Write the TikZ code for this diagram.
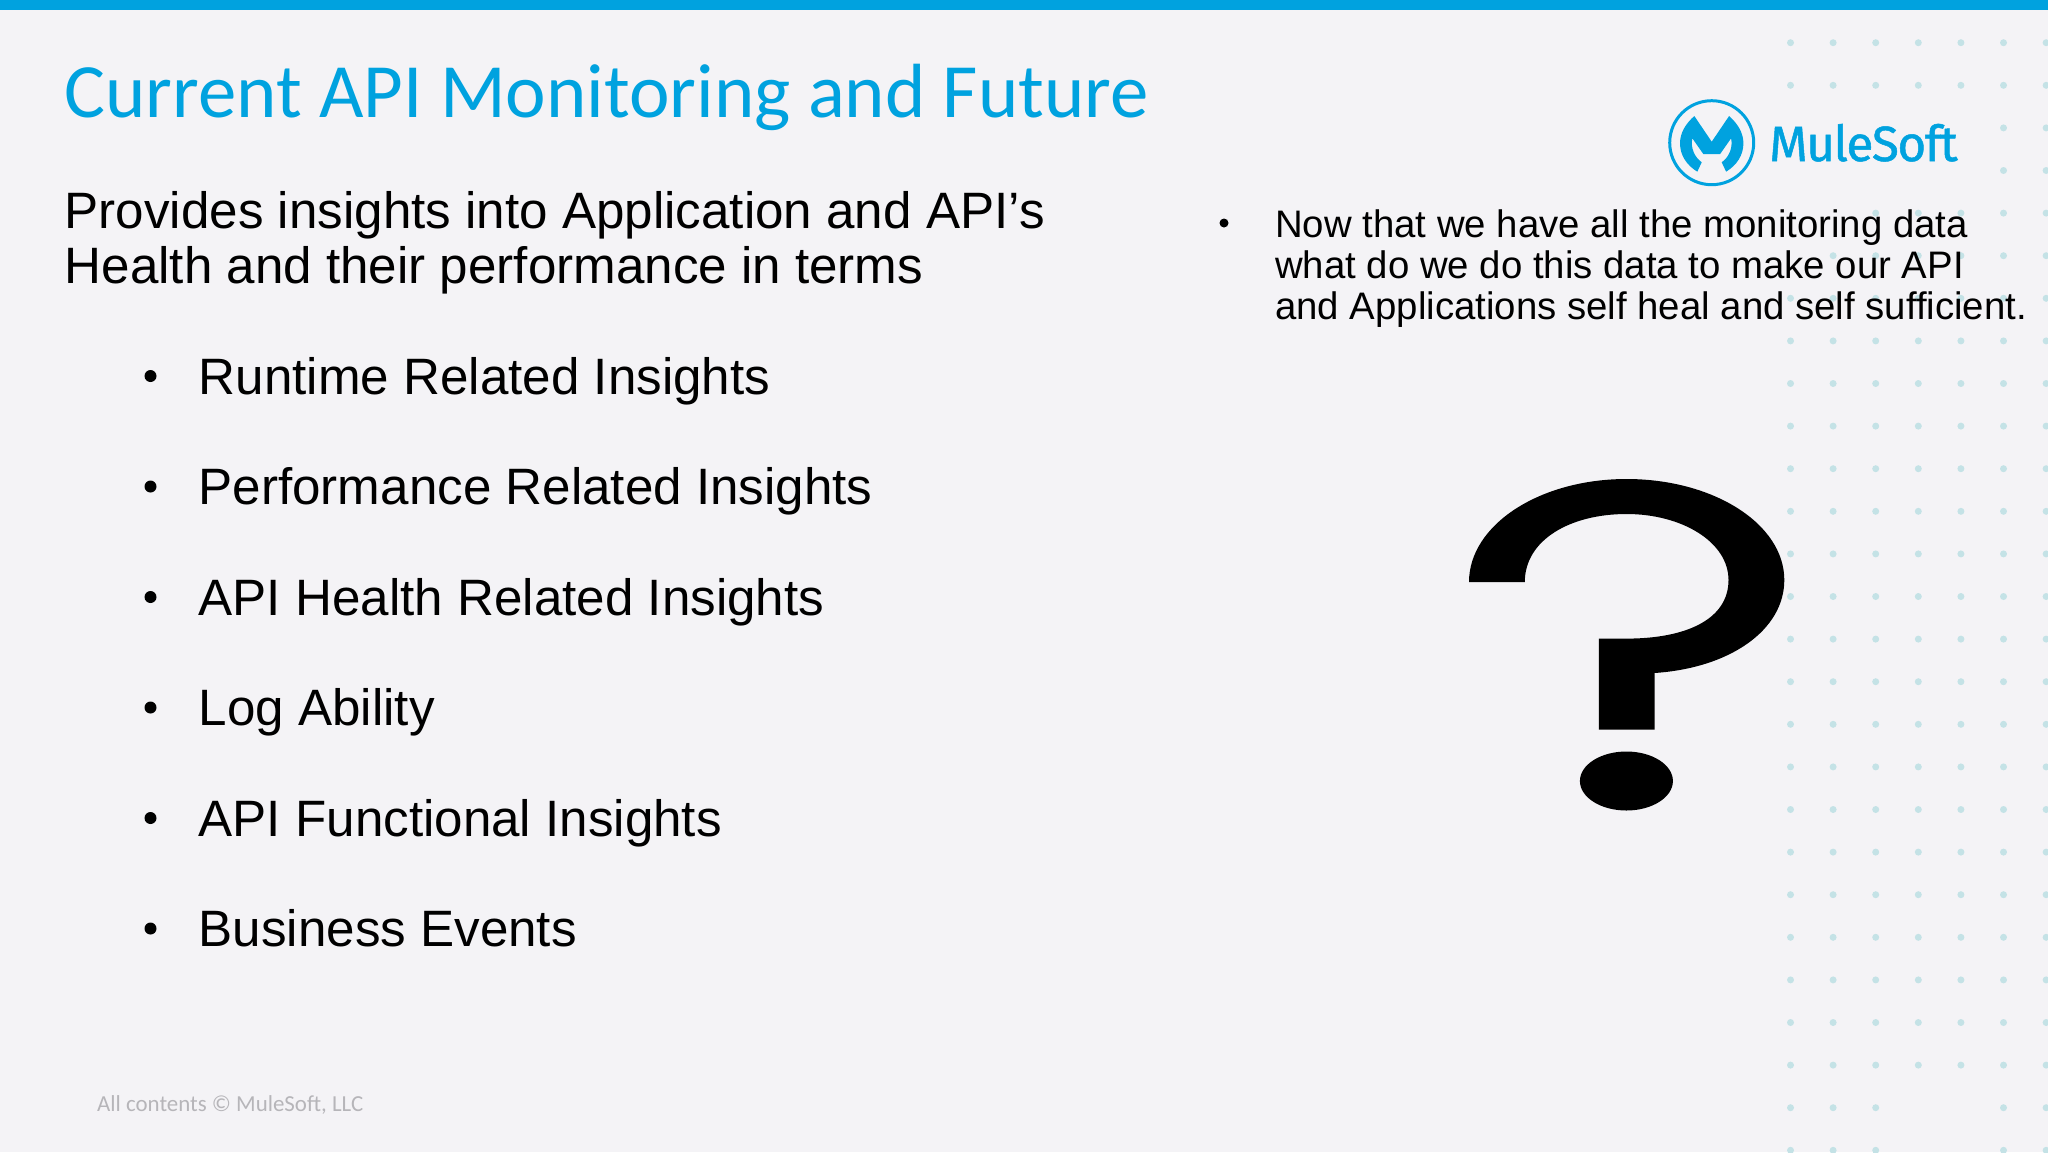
\documentclass[tikz,border=0pt]{standalone}
\usepackage{fontspec}
\setmainfont{Liberation Sans}
\newfontfamily\calibrifont{Carlito}
\newfontfamily\logofont[LetterSpace=-3,FakeBold=1]{Fira Sans}
\definecolor{mulebg}{HTML}{F4F3F6}
\definecolor{muleblue}{HTML}{00A2DF}
\definecolor{muledot}{HTML}{C4E2E6}
\definecolor{footgray}{HTML}{B6B5B9}
\tikzset{
	titletext/.style={anchor=base west, inner sep=0pt, text=muleblue, font=\calibrifont\fontsize{76.8}{76.8}\selectfont},
	leadtext/.style={anchor=base west, inner sep=0pt, font=\fontsize{51.15}{51.15}\selectfont},
	sidetext/.style={anchor=base west, inner sep=0pt, font=\fontsize{38.35}{38.35}\selectfont},
	bulletdot/.style={circle, fill=black, inner sep=0pt, minimum size=#1},
	griddot/.style={circle, fill=muledot, inner sep=0pt, minimum size=7pt}
}
\begin{document}
\begin{tikzpicture}[x=1pt,y=-1pt]
	\useasboundingbox (0,0) rectangle (2048,1152);
	\fill[mulebg] (0,0) rectangle (2048,1152);
	\fill[muleblue] (0,0) rectangle (2048,9.5);

	% dot grid
	\foreach \row in {0,...,26}
		\foreach \col in {0,...,6} {
			\pgfmathtruncatemacro{\skipdot}{(\row==2||\row==3)&&(\col<5) ? 1 : ((\row>=25)&&(\col==3||\col==4) ? 1 : ((\row==4)&&(\col<2) ? 1 : ((\row==5)&&(\col==0) ? 1 : 0)))}
			\ifnum\skipdot=0
				\node[griddot] (g\row-\col) at (1790.5+42.6*\col,42.7+42.6*\row) {};
			\fi
		}

	\node[titletext] (title) at (64.5,117) {Current API Monitoring and Future};
	\node[leadtext] (lead1) at (64.5,228) {Provides insights into Application and API’s};
	\node[leadtext] (lead2) at (64.5,283.5) {Health and their performance in terms};

	\foreach \name/\ypos/\txt in {runtime/394/Runtime Related Insights,
		perf/504.5/Performance Related Insights,
		health/615/API Health Related Insights,
		logs/725.5/Log Ability,
		func/836/API Functional Insights,
		events/946.5/Business Events} {
		\node[leadtext] (\name) at (198.5,\ypos) {\txt};
		\node[bulletdot=12pt] (\name-b) at (150.5,\ypos-18) {};
	}

	\node[sidetext] (side1) at (1275,237) {Now that we have all the monitoring data};
	\node[sidetext] (side2) at (1275,278) {what do we do this data to make our API};
	\node[sidetext] (side3) at (1275,319) {and Applications self heal and self sufficient.};
	\node[bulletdot=9pt] (side-b) at (1224,223) {};

	% logo
	\node[circle, draw=muleblue, line width=3pt, minimum size=84pt, inner sep=0pt] (ring) at (1711.7,142.7) {};
	\fill[muleblue] (1694.3,116) -- (1711.7,141.7) -- (1729.1,116)
		.. controls (1738,124) and (1743.4,133) .. (1743.4,143.3)
		.. controls (1743.4,155) and (1737,165) .. (1726.1,171.7) -- (1721.7,162.3)
		.. controls (1729,157) and (1733,148) .. (1731.1,138.3) -- (1720.1,154) -- (1703.3,154) -- (1692.3,138.3)
		.. controls (1690.4,148) and (1694.4,157) .. (1701.7,162.3) -- (1697.3,171.7)
		.. controls (1686.4,165) and (1680,155) .. (1680,143.3)
		.. controls (1680,133) and (1685.4,124) .. cycle;
	\node[anchor=base west, inner sep=0pt, text=muleblue, font=\logofont\fontsize{49.5}{49.5}\selectfont] (logotext) at (1769,161) {MuleSoft};

	% big question mark
	\fill (1469,582) .. controls (1469,525) and (1539.5,479) .. (1626.5,479)
		.. controls (1713.6,479) and (1784.3,524) .. (1784.3,580)
		.. controls (1784.3,630) and (1730,668) .. (1654.5,673)
		-- (1654.5,729.5) -- (1598.8,729.5) -- (1598.8,638.6) -- (1626.5,638.6)
		.. controls (1685,638.6) and (1728.5,620) .. (1728.5,580)
		.. controls (1728.5,542) and (1682,514) .. (1626.5,514)
		.. controls (1570,514) and (1524.8,540) .. (1524.8,582) -- cycle;
	\fill (1626.4,781) ellipse [x radius=46.5, y radius=29.5];

	\node[anchor=base west, inner sep=0pt, text=footgray, font=\calibrifont\fontsize{22.9}{22.9}\selectfont] (foot) at (97,1111) {All contents © MuleSoft, LLC};
\end{tikzpicture}
\end{document}
